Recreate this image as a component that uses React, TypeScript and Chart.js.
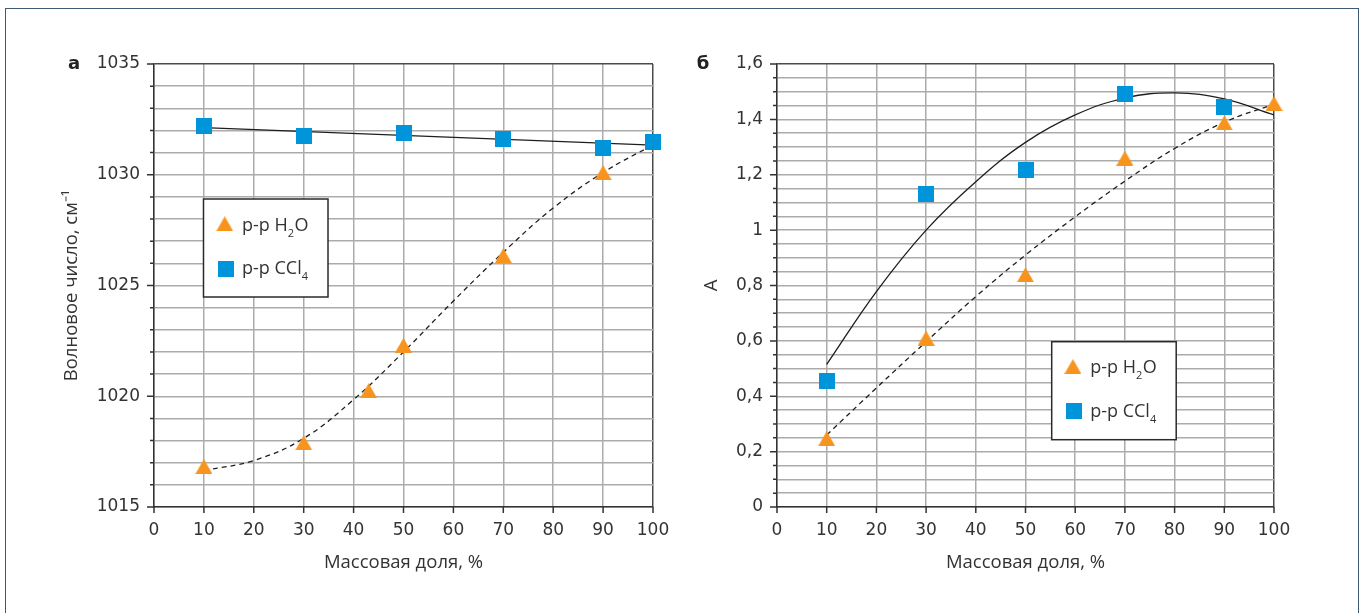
import React, { useEffect, useRef } from 'react';
import { Chart, registerables } from 'chart.js';

Chart.register(...registerables);

// ---------- data: panel "а" (wave number) ----------
const waveCCl4X = [10, 30, 50, 70, 90, 100];
const waveCCl4 = [1032.21, 1031.76, 1031.88, 1031.61, 1031.21, 1031.5];
const waveH2OX = [10, 30, 43, 50, 70, 90];
const waveH2O = [1016.83, 1017.9, 1020.25, 1022.3, 1026.35, 1030.1];
const waveCCl4FitX = [10, 100];
const waveCCl4Fit = [1032.13, 1031.34];
const waveH2OFitX = [10, 20, 30, 40, 50, 60, 70, 80, 90, 100];
const waveH2OFit = [1016.65, 1017.1, 1018.1, 1019.85, 1022.0, 1024.3, 1026.5, 1028.5, 1030.1, 1031.35];
const waveTickValues = [1015, 1020, 1025, 1030, 1035];
const waveTickLabels = ['1015', '1020', '1025', '1030', '1035'];

// ---------- data: panel "б" (absorbance) ----------
const absCCl4X = [10, 30, 50, 70, 90];
const absCCl4 = [0.454, 1.131, 1.217, 1.492, 1.445];
const absH2OX = [10, 30, 50, 70, 90, 100];
const absH2O = [0.247, 0.61, 0.839, 1.26, 1.387, 1.458];
const absCCl4FitX = [10, 20, 30, 40, 50, 60, 70, 80, 90, 100];
const absCCl4Fit = [0.515, 0.778, 1.0, 1.175, 1.317, 1.416, 1.477, 1.496, 1.474, 1.416];
const absH2OFitX = [10, 20, 30, 40, 50, 60, 70, 80, 90, 100];
const absH2OFit = [0.26, 0.43, 0.597, 0.76, 0.91, 1.048, 1.177, 1.295, 1.39, 1.455];
const absTickValues = [0, 0.2, 0.4, 0.6, 0.8, 1, 1.2, 1.4, 1.6];
const absTickLabels = ['0', '0,2', '0,4', '0,6', '0,8', '1', '1,2', '1,4', '1,6'];

const xTickValues = [0, 10, 20, 30, 40, 50, 60, 70, 80, 90, 100];
const xTickLabels = ['0', '10', '20', '30', '40', '50', '60', '70', '80', '90', '100'];

const xTitle = 'Массовая доля, %';
const waveTitle = 'Волновое число, см⁻¹';
const absTitle = 'A';
const legendH2O: [string, boolean][] = [['р-р H', false], ['2', true], ['O', false]];
const legendCCl4: [string, boolean][] = [['р-р CCl', false], ['4', true]];

// ---------- styles ----------
const ORANGE = '#F7941E';
const BLUE = '#0095DA';
const LINE = '#1e1e1e';
const GRID = '#ababab';
const FRAME = '#4a4a4a';
const AXIS = '#333333';
const TEXT = '#333333';
const TICK_FONT = { family: '"DejaVu Sans"', size: 17 };
const TITLE_FONT = { family: '"Open Sans"', size: 18.5 };

const zip = (xs: number[], ys: number[]) => xs.map((x, i) => ({ x, y: ys[i] }));
const near = (a: number, b: number) => Math.abs(a - b) < 1e-6;

function makeTriangle() {
  const c = document.createElement('canvas');
  c.width = 17;
  c.height = 15;
  const g = c.getContext('2d')!;
  g.fillStyle = ORANGE;
  g.beginPath();
  g.moveTo(8.5, 0);
  g.lineTo(17, 15);
  g.lineTo(0, 15);
  g.closePath();
  g.fill();
  return c;
}

function makeSquare() {
  const c = document.createElement('canvas');
  c.width = 16;
  c.height = 16;
  const g = c.getContext('2d')!;
  g.fillStyle = BLUE;
  g.fillRect(0, 0, 16, 16);
  return c;
}

type Panel = {
  cx: number[]; cy: number[]; hx: number[]; hy: number[];
  fcx: number[]; fcy: number[]; fhx: number[]; fhy: number[];
  yMin: number; yMax: number; yStep: number;
  yTickValues: number[]; yTickLabels: string[];
  yTitle: string; yTitlePad: number; yWidth: number; padRight: number;
  panelText: string; panelX: number;
  legendDx: number; legendDy: number;
};

function buildConfig(p: Panel, tri: HTMLCanvasElement, sq: HTMLCanvasElement): any {
  const tickPlugin = {
    id: 'tickMarks',
    afterDraw(chart: any) {
      const { ctx, chartArea, scales } = chart;
      ctx.save();
      ctx.strokeStyle = AXIS;
      ctx.lineWidth = 1.5;
      ctx.beginPath();
      scales.y.ticks.forEach((t: any) => {
        const py = scales.y.getPixelForValue(t.value);
        const major = p.yTickValues.some((v) => near(v, t.value));
        const len = major ? 7 : 4;
        ctx.moveTo(chartArea.left - len, py);
        ctx.lineTo(chartArea.left, py);
      });
      scales.x.ticks.forEach((t: any) => {
        const px = scales.x.getPixelForValue(t.value);
        ctx.moveTo(px, chartArea.bottom);
        ctx.lineTo(px, chartArea.bottom + 6);
      });
      ctx.stroke();
      ctx.fillStyle = '#222';
      ctx.font = 'bold 18px "DejaVu Sans"';
      ctx.textAlign = 'center';
      ctx.textBaseline = 'alphabetic';
      ctx.fillText(p.panelText, p.panelX, 69);
      ctx.restore();
    },
  };

  const legendPlugin = {
    id: 'boxLegend',
    afterDatasetsDraw(chart: any) {
      const { ctx, chartArea } = chart;
      const L = chartArea.left + p.legendDx;
      const T = chartArea.top + p.legendDy;
      const W = 124.5;
      const H = 98;
      ctx.save();
      ctx.fillStyle = '#ffffff';
      ctx.fillRect(L, T, W, H);
      ctx.strokeStyle = '#2a2a2a';
      ctx.lineWidth = 1.5;
      ctx.strokeRect(L, T, W, H);
      const items = [
        { img: tri, mx: 21.2, my: 24.8, base: 31.7, parts: legendH2O },
        { img: sq, mx: 22, my: 69.5, base: 75.4, parts: legendCCl4 },
      ];
      items.forEach((it) => {
        ctx.drawImage(it.img, L + it.mx - it.img.width / 2, T + it.my - it.img.height / 2);
        let x = L + 38.5;
        const base = T + it.base;
        ctx.fillStyle = TEXT;
        ctx.textAlign = 'left';
        ctx.textBaseline = 'alphabetic';
        it.parts.forEach(([txt, sub]) => {
          ctx.font = sub ? '11px "Open Sans"' : '18px "Open Sans"';
          ctx.fillText(txt, x, sub ? base + 6 : base);
          x += ctx.measureText(txt).width + (sub ? 0.5 : 0);
        });
      });
      ctx.restore();
    },
  };

  return {
    type: 'scatter',
    data: {
      datasets: [
        {
          label: 'fitCCl4', data: zip(p.fcx, p.fcy), showLine: true, pointRadius: 0,
          borderColor: LINE, borderWidth: 1.3, tension: 0.4, order: 4,
        },
        {
          label: 'fitH2O', data: zip(p.fhx, p.fhy), showLine: true, pointRadius: 0,
          borderColor: LINE, borderWidth: 1.3, borderDash: [5, 4], tension: 0.4, order: 3,
        },
        { label: 'CCl4', data: zip(p.cx, p.cy), pointStyle: sq, pointRadius: 8, clip: false, order: 2 },
        { label: 'H2O', data: zip(p.hx, p.hy), pointStyle: tri, pointRadius: 8, clip: false, order: 1 },
      ],
    },
    options: {
      responsive: false,
      animation: false,
      devicePixelRatio: 1,
      events: [],
      layout: { padding: { left: 0, top: 64, right: p.padRight, bottom: 0 } },
      plugins: { legend: { display: false }, tooltip: { enabled: false } },
      scales: {
        x: {
          type: 'linear', min: 0, max: 100,
          afterFit: (s: any) => { s.height = 106; },
          ticks: {
            stepSize: 10, autoSkip: false, maxRotation: 0, padding: 7, maxTicksLimit: 100,
            font: TICK_FONT, color: TEXT,
            callback: (v: number) => {
              const i = xTickValues.findIndex((t) => near(t, v));
              return i >= 0 ? xTickLabels[i] : '';
            },
          },
          grid: {
            color: (c: any) => (c.tick && near(c.tick.value, 100) ? FRAME : GRID),
            lineWidth: 1.5, tickLength: 6, tickColor: 'rgba(0,0,0,0)',
          },
          border: { color: AXIS, width: 1.5 },
          title: { display: true, text: xTitle, font: TITLE_FONT, color: TEXT, padding: { top: 0, bottom: 39 } },
        },
        y: {
          type: 'linear', min: p.yMin, max: p.yMax,
          afterFit: (s: any) => { s.width = p.yWidth; },
          ticks: {
            stepSize: p.yStep, autoSkip: false, padding: 7, maxTicksLimit: 100,
            font: TICK_FONT, color: TEXT,
            callback: (v: number) => {
              const i = p.yTickValues.findIndex((t) => near(t, v));
              return i >= 0 ? p.yTickLabels[i] : '';
            },
          },
          grid: {
            color: (c: any) => (c.tick && near(c.tick.value, p.yMax) ? FRAME : GRID),
            lineWidth: 1.5, tickLength: 7, tickColor: 'rgba(0,0,0,0)',
          },
          border: { color: AXIS, width: 1.5 },
          title: { display: true, text: p.yTitle, font: TITLE_FONT, color: TEXT, padding: { top: p.yTitlePad, bottom: 0 } },
        },
      },
    },
    plugins: [tickPlugin, legendPlugin],
  };
}

function PanelChart({ panel, left }: { panel: Panel; left: number }) {
  const ref = useRef<HTMLCanvasElement | null>(null);
  useEffect(() => {
    if (!ref.current) return;
    const chart = new Chart(ref.current, buildConfig(panel, makeTriangle(), makeSquare()));
    return () => chart.destroy();
  }, [panel]);
  return (
    <canvas
      ref={ref}
      width={682}
      height={613}
      style={{ position: 'absolute', left, top: 0, width: 682, height: 613, display: 'block' }}
    />
  );
}

const panelA: Panel = {
  cx: waveCCl4X, cy: waveCCl4, hx: waveH2OX, hy: waveH2O,
  fcx: waveCCl4FitX, fcy: waveCCl4Fit, fhx: waveH2OFitX, fhy: waveH2OFit,
  yMin: 1015, yMax: 1035, yStep: 1,
  yTickValues: waveTickValues, yTickLabels: waveTickLabels,
  yTitle: waveTitle, yTitlePad: 61, yWidth: 154, padRight: 29,
  panelText: 'а', panelX: 74,
  legendDx: 49.5, legendDy: 135,
};

const panelB: Panel = {
  cx: absCCl4X, cy: absCCl4, hx: absH2OX, hy: absH2O,
  fcx: absCCl4FitX, fcy: absCCl4Fit, fhx: absH2OFitX, fhy: absH2OFit,
  yMin: 0, yMax: 1.6, yStep: 0.05,
  yTickValues: absTickValues, yTickLabels: absTickLabels,
  yTitle: absTitle, yTitlePad: 19, yWidth: 95, padRight: 90,
  panelText: 'б', panelX: 21,
  legendDx: 274.7, legendDy: 277.7,
};

export default function App() {
  return (
    <div
      style={{
        position: 'fixed', left: 0, top: 0, width: 1364, height: 613,
        overflow: 'hidden', background: '#ffffff',
      }}
    >
      <div
        style={{
          position: 'absolute', left: 5, top: 8, width: 1354, height: 800,
          border: '1.5px solid #3d5a74', boxSizing: 'border-box',
        }}
      />
      <PanelChart panel={panelA} left={0} />
      <PanelChart panel={panelB} left={682} />
    </div>
  );
}
